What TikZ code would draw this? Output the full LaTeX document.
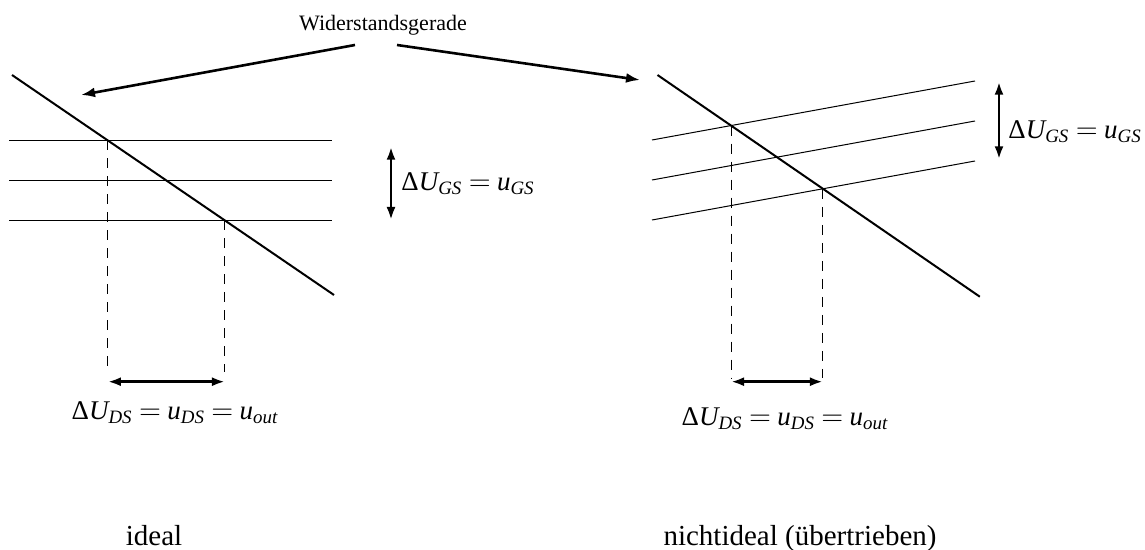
\documentclass[tikz,border=0pt]{standalone}
\usepackage{amsmath}
\usepackage{fontspec}
\setmainfont{Liberation Serif}
\usetikzlibrary{arrows.meta,intersections}
\newcommand{\mv}[1]{\textit{#1}}
\newcommand{\tightmath}{\thickmuskip=4mu plus 2mu minus 1mu\relax}
\begin{document}
\begin{tikzpicture}[x=0.5pt,y=-0.5pt,
  gridline/.style={line width=0.5pt},
  loadline/.style={line width=1pt},
  dimarrow/.style={line width=1.3pt,{Latex[length=6.5pt,width=4.5pt]}-{Latex[length=6.5pt,width=4.5pt]}},
  pointer/.style={line width=1.3pt,-{Latex[length=7pt,width=5pt]}},
  guide/.style={line width=0.5pt,dash pattern=on 5pt off 4pt},
  lbl/.style={inner sep=0pt,font=\fontsize{13.5}{16}\selectfont\tightmath},
  caption/.style={inner sep=0pt,anchor=base,font=\fontsize{14.5}{17}\selectfont}]
\useasboundingbox (0,0) rectangle (1145,550);

% ---------- title and pointers ----------
\node[inner sep=0pt,anchor=base,font=\fontsize{11}{13}\selectfont] (wg) at (383,31) {Widerstandsgerade};
\coordinate (wgL) at (355,45);
\coordinate (tipL) at (81,95);
\coordinate (wgR) at (397,45);
\coordinate (tipR) at (640,80);
\draw[pointer] (wgL) -- (tipL);
\draw[pointer] (wgR) -- (tipR);

% ---------- left panel (ideal) ----------
\coordinate (Ls) at (12,75);
\coordinate (Le) at (334,295);
\coordinate (hAl) at (9,140.5);  \coordinate (hAr) at (332,140.5);
\coordinate (hBl) at (9,180.5);  \coordinate (hBr) at (332,180.5);
\coordinate (hCl) at (9,220.5);  \coordinate (hCr) at (332,220.5);
\draw[gridline,name path=hA] (hAl) -- (hAr);
\draw[gridline,name path=hB] (hBl) -- (hBr);
\draw[gridline,name path=hC] (hCl) -- (hCr);
\draw[loadline,name path=loadL] (Ls) -- (Le);
\path[name intersections={of=loadL and hA, by=IA}];
\path[name intersections={of=loadL and hC, by=IC}];
\coordinate (baseL) at (0,372);
\coordinate (arrL) at (0,381.7);
\draw[guide] (IA) -- (IA |- baseL);
\draw[guide] (IC) -- (IC |- baseL);
\draw[dimarrow] (IA |- arrL) -- (IC |- arrL);
\node[lbl] (dsL) at (175,412.5) {$\text{Δ}\mv{U}_{\mv{DS}}=\mv{u}_{\mv{DS}}=\mv{u}_{\mv{out}}$};
\coordinate (gsLt) at (391,146.7);
\coordinate (gsLb) at (391,220);
\draw[dimarrow] (gsLt) -- (gsLb);
\node[lbl,anchor=west] (gsL) at (401,184) {$\text{Δ}\mv{U}_{\mv{GS}}=\mv{u}_{\mv{GS}}$};
\node[caption] (capL) at (154,545) {ideal};

% ---------- right panel (nichtideal) ----------
\coordinate (Rs) at (657.5,75);
\coordinate (Re) at (979.8,296.7);
\coordinate (kAl) at (652,140);  \coordinate (kAr) at (975,81);
\coordinate (kBl) at (652,180);  \coordinate (kBr) at (975,121);
\coordinate (kCl) at (652,220);  \coordinate (kCr) at (975,161);
\draw[gridline,name path=kA] (kAl) -- (kAr);
\draw[gridline,name path=kB] (kBl) -- (kBr);
\draw[gridline,name path=kC] (kCl) -- (kCr);
\draw[loadline,name path=loadR] (Rs) -- (Re);
\path[name intersections={of=loadR and kA, by=JA}];
\path[name intersections={of=loadR and kC, by=JC}];
\coordinate (baseR) at (0,378);
\coordinate (arrR) at (0,381.7);
\draw[guide] (JA) -- (JA |- baseR);
\draw[guide] (JC) -- (JC |- baseR);
\draw[dimarrow] (JA |- arrR) -- (JC |- arrR);
\node[lbl] (dsR) at (785,419) {$\text{Δ}\mv{U}_{\mv{DS}}=\mv{u}_{\mv{DS}}=\mv{u}_{\mv{out}}$};
\coordinate (gsRt) at (999,81.7);
\coordinate (gsRb) at (999,159.3);
\draw[dimarrow] (gsRt) -- (gsRb);
\node[lbl,anchor=west] (gsR) at (1008,131.7) {$\text{Δ}\mv{U}_{\mv{GS}}=\mv{u}_{\mv{GS}}$};
\node[caption] (capR) at (800,545) {nichtideal (übertrieben)};
\end{tikzpicture}
\end{document}
